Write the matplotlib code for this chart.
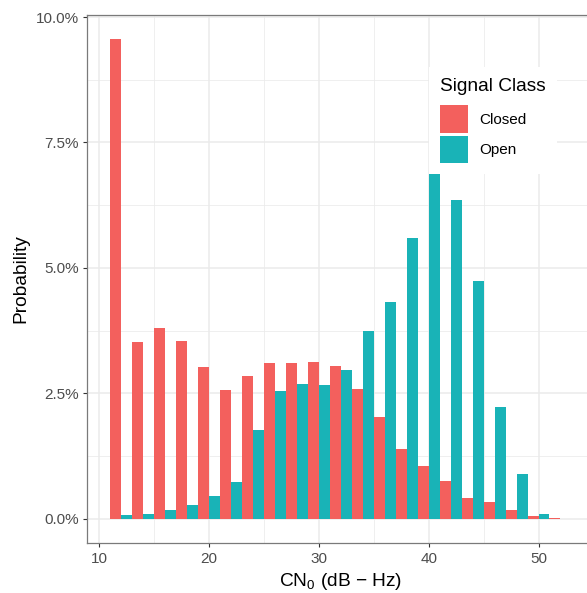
import matplotlib
matplotlib.use("Agg")
import matplotlib.pyplot as plt
from matplotlib.patches import Patch
from matplotlib.ticker import FixedLocator, FuncFormatter
import numpy as np

plt.rcParams['font.family'] = ['Liberation Sans', 'DejaVu Sans']
plt.rcParams['mathtext.fontset'] = 'custom'
plt.rcParams['mathtext.rm'] = 'Liberation Sans'
plt.rcParams['mathtext.it'] = 'Liberation Sans:italic'

# Data: bin centres (bin width 2 dB-Hz) and probability (%) per class
bin_centers = [12, 14, 16, 18, 20, 22, 24, 26, 28, 30, 32, 34, 36, 38, 40, 42, 44, 46, 48, 50, 52]
closed_pct = [9.57, 3.52, 3.81, 3.54, 3.03, 2.57, 2.84, 3.10, 3.10, 3.12, 3.05, 2.59, 2.03, 1.39,
              1.06, 0.75, 0.41, 0.33, 0.18, 0.05, 0.01]
open_pct = [0.07, 0.10, 0.17, 0.27, 0.46, 0.74, 1.77, 2.55, 2.68, 2.67, 2.96, 3.74, 4.32, 5.59,
            7.59, 6.36, 4.73, 2.23, 0.90, 0.10, 0.0]
classes = ["Closed", "Open"]
colors = ["#F3605D", "#19B3B7"]

y_ticks = [0, 2.5, 5.0, 7.5, 10.0]
x_ticks = [10, 20, 30, 40, 50]

W, H = 587, 593
fig = plt.figure(figsize=(W / 100, H / 100), dpi=100)
left, right, top, bottom = 87.3, 594.5, 15, 542.7
ax = fig.add_axes([left / W, (H - bottom) / H, (right - left) / W, (bottom - top) / H])

c = np.array(bin_centers, dtype=float)
ax.bar(c - 0.5, closed_pct, width=1.0, color=colors[0], linewidth=0, zorder=3)
ax.bar(c + 0.5, open_pct, width=1.0, color=colors[1], linewidth=0, zorder=3)

ax.set_xlim(8.9, 55.1)
ax.set_ylim(-0.475, 10.04)

ax.xaxis.set_major_locator(FixedLocator(x_ticks))
ax.xaxis.set_minor_locator(FixedLocator([15, 25, 35, 45, 55]))
ax.yaxis.set_major_locator(FixedLocator(y_ticks))
ax.yaxis.set_minor_locator(FixedLocator([1.25, 3.75, 6.25, 8.75]))
ax.yaxis.set_major_formatter(FuncFormatter(lambda v, p: f"{v:.1f}%"))

ax.grid(which='major', color='#EBEBEB', linewidth=1.1, zorder=0)
ax.grid(which='minor', color='#EBEBEB', linewidth=0.55, zorder=0)
ax.set_axisbelow(True)

for s in ax.spines.values():
    s.set_color('#7A7A7A')
    s.set_linewidth(0.9)

ax.tick_params(axis='both', which='major', length=3.0, width=0.8, color='#333333',
               labelcolor='#4D4D4D', labelsize=11, pad=3)
ax.tick_params(axis='x', which='major', pad=4)
ax.tick_params(axis='both', which='minor', length=0)

ax.set_ylabel("Probability", fontsize=13.8, color='black', labelpad=5)
ax.set_xlabel(r"CN$_\mathrm{0}$ (dB $-$ Hz)", fontsize=13.8, color='black', labelpad=3)

handles = [Patch(facecolor=colors[0], edgecolor='none'), Patch(facecolor=colors[1], edgecolor='none')]
leg = ax.legend(handles, classes, title="Signal Class", loc='upper left',
                bbox_to_anchor=(429 / W, 1 - 67 / H), bbox_transform=fig.transFigure,
                fontsize=11, title_fontsize=13.8, frameon=True, fancybox=False,
                handlelength=1.84, handleheight=2.41, labelspacing=0.2, handletextpad=0.72,
                borderpad=0.72, borderaxespad=0, alignment='left')
leg.get_frame().set_facecolor('white')
leg.get_frame().set_edgecolor('none')
leg.get_frame().set_alpha(1)
leg.set_zorder(10)
# extra gap between legend title and keys (ggplot-style)
leg._legend_box.sep = 7.2

fig.savefig("out.png", dpi=100)
